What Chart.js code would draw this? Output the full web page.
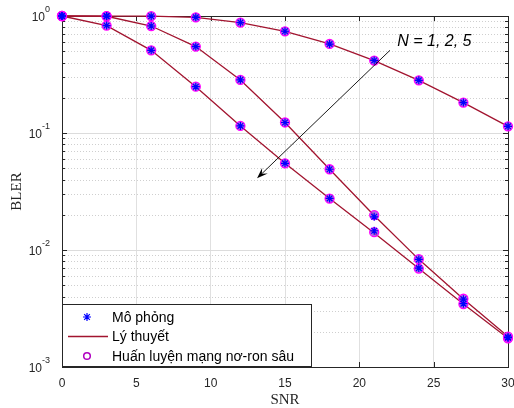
<!DOCTYPE html>
<html>
<head>
<meta charset="utf-8">
<script src="https://cdn.jsdelivr.net/npm/chart.js@4/dist/chart.umd.min.js"></script>
<style>
  html, body { margin: 0; padding: 0; background: #fff; }
</style>
</head>
<body>
<canvas id="blerChart" width="514" height="408"></canvas>
<script>
// SNR (dB)
const snr = [0, 3, 6, 9, 12, 15, 18, 21, 24, 27, 30];

// BLER lý thuyết cho N = 1, 2, 5
const theoryN1 = [1.0, 0.999, 0.997, 0.975, 0.878, 0.740, 0.577, 0.416, 0.282, 0.182, 0.114];
const theoryN2 = [1.0, 0.995, 0.821, 0.548, 0.284, 0.123, 0.0490, 0.0197, 0.00832, 0.00381, 0.00182];
const theoryN5 = [1.0, 0.828, 0.509, 0.249, 0.115, 0.0551, 0.0275, 0.0140, 0.00694, 0.00345, 0.00176];

// Mô phỏng
const simN1 = [1.0, 0.999, 0.997, 0.975, 0.878, 0.741, 0.576, 0.417, 0.282, 0.182, 0.114];
const simN2 = [1.0, 0.995, 0.821, 0.548, 0.285, 0.123, 0.0490, 0.0192, 0.00830, 0.00380, 0.00180];
const simN5 = [1.0, 0.828, 0.509, 0.249, 0.115, 0.0551, 0.0276, 0.0146, 0.00700, 0.00348, 0.00178];

// Huấn luyện mạng nơ-ron sâu
const dnnN1 = [1.0, 0.999, 0.997, 0.975, 0.878, 0.740, 0.577, 0.416, 0.282, 0.182, 0.114];
const dnnN2 = [1.0, 0.995, 0.821, 0.548, 0.284, 0.123, 0.0490, 0.0199, 0.00835, 0.00383, 0.00182];
const dnnN5 = [1.0, 0.828, 0.509, 0.249, 0.115, 0.0551, 0.0275, 0.0142, 0.00694, 0.00345, 0.00176];

const yDecades = [-3, -2, -1, 0];
const xTicks = [0, 5, 10, 15, 20, 25, 30];

const legendLabels = ['Mô phỏng', 'Lý thuyết', 'Huấn luyện mạng nơ-ron sâu'];
const annotText = 'N = 1, 2, 5';

const lineColor = '#A2142F';
const starColor = '#0000FF';
const circColor = '#FF00FF';
const axisColor = '#262626';
const sansFont = '"Liberation Sans", Arial, Helvetica, sans-serif';
const serifFont = '"Liberation Serif", "Times New Roman", serif';

function pts(ys) {
    return snr.map((x, i) => ({ x: x, y: ys[i] }));
}

const theoryLine = (ys) => ({
    data: pts(ys), borderColor: lineColor, borderWidth: 1.3,
    pointRadius: 0, showLine: true, fill: false, clip: false, order: 2
});
const simMarks = (ys) => ({
    data: pts(ys), showLine: false, pointStyle: 'star', pointRadius: 4,
    borderColor: starColor, pointBorderWidth: 1.2, clip: false, order: 0
});
const dnnMarks = (ys) => ({
    data: pts(ys), showLine: false, pointStyle: 'circle', pointRadius: 4.5,
    borderColor: circColor, backgroundColor: 'rgba(150,60,220,0.75)',
    pointBorderWidth: 1.3, clip: false, order: 1
});

// lưới, khung, vạch chia, nhãn trục, chú thích
const decorPlugin = {
    id: 'decor',
    beforeDatasetsDraw(chart) {
        const { ctx, chartArea: a, scales: { x, y } } = chart;
        ctx.save();
        // lưới trục y
        yDecades.forEach(e => {
            for (let m = 1; m <= 9; m++) {
                const v = m * Math.pow(10, e);
                if (v > 1.0001) break;
                const py = Math.round(y.getPixelForValue(v)) + 0.5;
                ctx.beginPath();
                if (m === 1) {
                    ctx.setLineDash([]);
                    ctx.strokeStyle = '#dcdcdc';
                } else {
                    ctx.setLineDash([1, 2]);
                    ctx.strokeStyle = '#cfcfcf';
                }
                ctx.lineWidth = 1;
                ctx.moveTo(a.left, py);
                ctx.lineTo(a.right, py);
                ctx.stroke();
                // vạch chia bên trong
                ctx.setLineDash([]);
                ctx.strokeStyle = axisColor;
                const len = m === 1 ? 5 : 3;
                ctx.beginPath();
                ctx.moveTo(a.left, py); ctx.lineTo(a.left + len, py);
                ctx.moveTo(a.right, py); ctx.lineTo(a.right - len, py);
                ctx.stroke();
            }
        });
        // vạch chia trục x
        ctx.strokeStyle = axisColor;
        ctx.setLineDash([]);
        xTicks.forEach(t => {
            const px = Math.round(x.getPixelForValue(t)) + 0.5;
            ctx.beginPath();
            ctx.moveTo(px, a.bottom); ctx.lineTo(px, a.bottom - 5);
            ctx.moveTo(px, a.top); ctx.lineTo(px, a.top + 5);
            ctx.stroke();
        });
        // khung
        ctx.lineWidth = 1;
        ctx.strokeRect(Math.round(a.left) + 0.5, Math.round(a.top) + 0.5,
            Math.round(a.right - a.left), Math.round(a.bottom - a.top));

        // nhãn trục y: 10^e
        ctx.fillStyle = axisColor;
        ctx.textBaseline = 'middle';
        yDecades.forEach(e => {
            const py = y.getPixelForValue(Math.pow(10, e));
            const sup = String(e);
            ctx.font = '9px ' + sansFont;
            const sw = ctx.measureText(sup).width;
            ctx.textAlign = 'left';
            ctx.fillText(sup, 50 - sw, py - 6);
            ctx.font = '12px ' + sansFont;
            const bw = ctx.measureText('10').width;
            ctx.fillText('10', 50 - sw - bw, py + 2);
        });

        // tên trục
        ctx.font = '15px ' + serifFont;
        ctx.textAlign = 'center';
        ctx.fillText('SNR', (a.left + a.right) / 2, 400);
        ctx.save();
        ctx.translate(17, (a.top + a.bottom) / 2);
        ctx.rotate(-Math.PI / 2);
        ctx.fillText('BLER', 0, 0);
        ctx.restore();
        ctx.restore();
    },
    afterDatasetsDraw(chart) {
        const { ctx, scales: { x, y } } = chart;
        ctx.save();
        // mũi tên chú thích
        const x0 = x.getPixelForValue(22.06), y0 = y.getPixelForValue(0.509);
        const x1 = x.getPixelForValue(13.12), y1 = y.getPixelForValue(0.041);
        const ang = Math.atan2(y1 - y0, x1 - x0);
        ctx.strokeStyle = '#000';
        ctx.fillStyle = '#000';
        ctx.lineWidth = 0.9;
        ctx.beginPath();
        ctx.moveTo(x0, y0);
        ctx.lineTo(x1 - 6 * Math.cos(ang), y1 - 6 * Math.sin(ang));
        ctx.stroke();
        const hl = 11, hw = 4;
        ctx.beginPath();
        ctx.moveTo(x1, y1);
        ctx.lineTo(x1 - hl * Math.cos(ang) + hw * Math.sin(ang), y1 - hl * Math.sin(ang) - hw * Math.cos(ang));
        ctx.lineTo(x1 - 0.6 * hl * Math.cos(ang), y1 - 0.6 * hl * Math.sin(ang));
        ctx.lineTo(x1 - hl * Math.cos(ang) - hw * Math.sin(ang), y1 - hl * Math.sin(ang) + hw * Math.cos(ang));
        ctx.closePath();
        ctx.fill();

        ctx.font = 'italic 16px ' + sansFont;
        ctx.textAlign = 'left';
        ctx.textBaseline = 'middle';
        ctx.fillStyle = '#000';
        ctx.fillText(annotText, x.getPixelForValue(22.55), y.getPixelForValue(0.605));

        // chú giải
        const lx = 62.5, ly = 304.5, lw = 249, lh = 62;
        ctx.fillStyle = '#fff';
        ctx.fillRect(lx, ly, lw, lh);
        ctx.strokeStyle = axisColor;
        ctx.lineWidth = 1;
        ctx.strokeRect(lx, ly, lw, lh);
        const rows = [317, 336.5, 356];
        // ngôi sao
        ctx.strokeStyle = starColor;
        ctx.lineWidth = 1.2;
        ctx.beginPath();
        const r = 4, cx = 87;
        for (let k = 0; k < 4; k++) {
            const t = k * Math.PI / 4;
            ctx.moveTo(cx - r * Math.cos(t), rows[0] - r * Math.sin(t));
            ctx.lineTo(cx + r * Math.cos(t), rows[0] + r * Math.sin(t));
        }
        ctx.stroke();
        // đường
        ctx.strokeStyle = lineColor;
        ctx.lineWidth = 1.3;
        ctx.beginPath();
        ctx.moveTo(68, rows[1]); ctx.lineTo(108, rows[1]);
        ctx.stroke();
        // vòng tròn
        ctx.strokeStyle = '#B000C0';
        ctx.lineWidth = 1.5;
        ctx.beginPath();
        ctx.arc(87, rows[2], 3.3, 0, Math.PI * 2);
        ctx.stroke();

        ctx.fillStyle = '#000';
        ctx.font = '14px ' + sansFont;
        legendLabels.forEach((s, i) => ctx.fillText(s, 112, rows[i] + 1));
        ctx.restore();
    }
};

const ctx = document.getElementById('blerChart').getContext('2d');

const blerChart = new Chart(ctx, {
    type: 'scatter',
    data: {
        datasets: [
            simMarks(simN1), simMarks(simN2), simMarks(simN5),
            dnnMarks(dnnN1), dnnMarks(dnnN2), dnnMarks(dnnN5),
            theoryLine(theoryN1), theoryLine(theoryN2), theoryLine(theoryN5)
        ]
    },
    options: {
        responsive: false,
        animation: false,
        layout: { padding: { top: 16, right: 6, left: 0, bottom: 0 } },
        plugins: {
            legend: { display: false },
            tooltip: { enabled: false }
        },
        scales: {
            x: {
                type: 'linear',
                min: 0, max: 30,
                afterFit(s) { s.height = 41; s.paddingLeft = 0; s.paddingRight = 0; },
                afterBuildTicks(s) { s.ticks = xTicks.map(v => ({ value: v })); },
                ticks: {
                    padding: 9,
                    color: axisColor,
                    font: { family: sansFont, size: 12 }
                },
                grid: { color: '#e0e0e0', drawTicks: false },
                border: { display: false }
            },
            y: {
                type: 'logarithmic',
                min: 0.001, max: 1,
                afterFit(s) { s.width = 62; s.paddingTop = 0; s.paddingBottom = 0; },
                ticks: { display: false },
                grid: { display: false },
                border: { display: false }
            }
        }
    },
    plugins: [decorPlugin]
});
</script>
</body>
</html>
